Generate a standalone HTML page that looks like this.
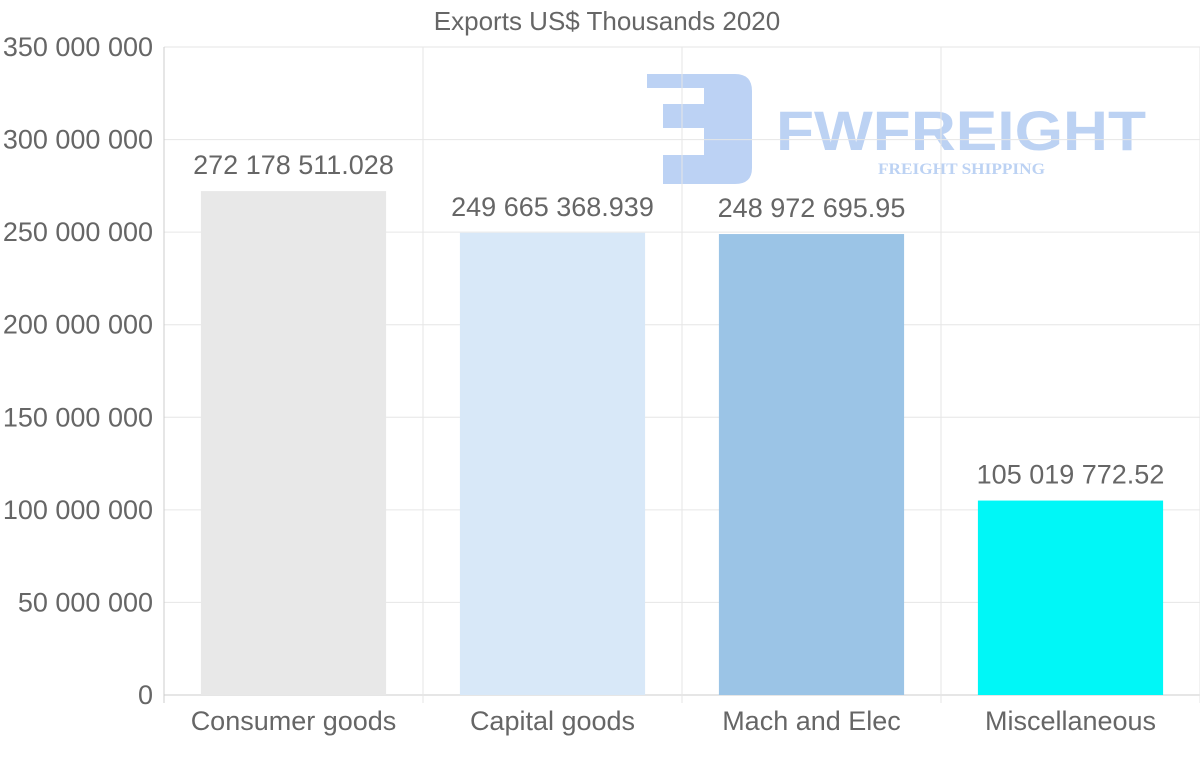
<!DOCTYPE html>
<html><head><meta charset="utf-8"><style>
html,body{margin:0;padding:0;background:#fff;}
svg{display:block;font-family:"Liberation Sans",Arial,sans-serif;}
</style></head><body>
<svg id="chart" width="1200" height="763" viewBox="0 0 1200 763" xmlns="http://www.w3.org/2000/svg">
<g opacity="0.75">
  <path d="M647,74 H735 Q752,74 752,91 V168 Q752,184 735,184 H663 V155 H704 V128 H663 V104 H704 V88 H647 Z" fill="#a6c3f0"/>
  <text x="776" y="150" font-size="56" font-weight="bold" fill="#a6c3f0" textLength="370" lengthAdjust="spacingAndGlyphs">FWFREIGHT</text>
  <text x="878" y="174" font-size="16" font-family="Liberation Serif,serif" font-weight="bold" fill="#a6c3f0" textLength="167" lengthAdjust="spacingAndGlyphs">FREIGHT SHIPPING</text>
</g>
<text x="607" y="30" font-size="26" fill="#666" text-anchor="middle">Exports US$ Thousands 2020</text>
<g id="grid"></g><g id="bars"></g><g id="labels"></g>
</svg>
<script>
const categories=["Consumer goods","Capital goods","Mach and Elec","Miscellaneous"];
const values=[272178511.028,249665368.939,248972695.95,105019772.52];
const valueLabels=["272 178 511.028","249 665 368.939","248 972 695.95","105 019 772.52"];
const yTicks=[0,50000000,100000000,150000000,200000000,250000000,300000000,350000000];
const yTickLabels=["0","50 000 000","100 000 000","150 000 000","200 000 000","250 000 000","300 000 000","350 000 000"];
const colors=["#e8e8e8","#d8e8f8","#9bc4e6","#00f7f7"];
const NS="http://www.w3.org/2000/svg";
const L=164,R=1200,T=47,B=695,yMax=350000000;
const y=v=>B-(v/yMax)*(B-T);
const cw=(R-L)/categories.length;
const x=i=>L+cw*i;
function mk(tag,attrs,parent){const e=document.createElementNS(NS,tag);for(const k in attrs)e.setAttribute(k,attrs[k]);parent.appendChild(e);return e;}
const g=document.getElementById('grid'),bg=document.getElementById('bars'),lg=document.getElementById('labels');
yTicks.forEach((t,i)=>{
  const ln=mk('line',{x1:L,x2:R,y1:y(t),y2:y(t),stroke:i==0?'#ccc':'#e6e6e6','stroke-width':1},g);
  
  
  const tx=mk('text',{x:153,y:y(t)+9,'font-size':27,fill:'#666','text-anchor':'end'},g);
  tx.textContent=yTickLabels[i];
  
  
});
for(let i=0;i<=categories.length;i++){
  const ln=mk('line',{x1:x(i),x2:x(i),y1:T,y2:B+8,stroke:i==0?'#ccc':'#e6e6e6','stroke-width':1},g);
  
  
}
categories.forEach((c,i)=>{
  const bw=cw*0.715,bx=x(i)+(cw-bw)/2;
  const r=mk('rect',{x:bx,y:y(values[i]),width:bw,height:B-y(values[i]),fill:colors[i]},bg);
  
  
  const vt=mk('text',{x:x(i)+cw/2,y:y(values[i])-17,'font-size':27,fill:'#666','text-anchor':'middle'},lg);
  vt.textContent=valueLabels[i];
  
  
  const ct=mk('text',{x:x(i)+cw/2,y:730,'font-size':27,fill:'#666','text-anchor':'middle'},lg);
  ct.textContent=c;
  
  
});
</script>
</body></html>
